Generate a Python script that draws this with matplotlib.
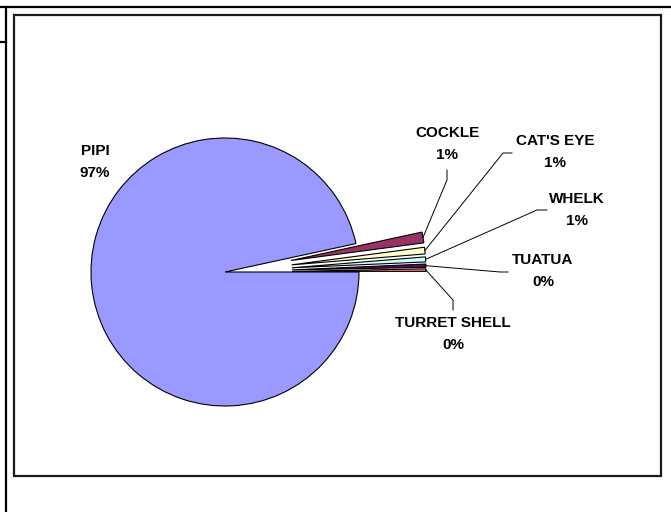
import numpy as np
import matplotlib.pyplot as plt
from matplotlib.patches import Rectangle

# shellfish catch composition
species = ['PIPI', 'COCKLE', "CAT'S EYE", 'WHELK', 'TUATUA', 'TURRET SHELL']
share = [96.6, 1.3, 0.8, 0.6, 0.4, 0.3]
colors = ['#9999FF', '#993366', '#FFFFCC', '#CCFFFF', '#660066', '#FF8080']
explode = [0, 0.5, 0.5, 0.5, 0.5, 0.5]   # fraction of the radius

W, H = 671, 512
CX, CY, R = 225, 272, 134


def fy(y):
    # canvas is laid out top-down in pixels
    return H - y


fig = plt.figure(figsize=(W / 100, H / 100), dpi=100)
ax = fig.add_axes([0, 0, 1, 1])

wedges, _ = ax.pie(share, colors=colors, explode=[e * R for e in explode],
                   startangle=0, counterclock=False, radius=R,
                   center=(CX, fy(CY)),
                   wedgeprops=dict(edgecolor='black', linewidth=0.8))

ax.set_xlim(0, W)
ax.set_ylim(0, H)
ax.set_aspect('equal')
ax.axis('off')

# label centres and leader elbows (top-down pixel coords)
label_pos = [(95, 162), (447, 144), (555, 152), (577, 210), (543, 271), (453, 334)]
leaders = [None,
           [(447, 180), (447, 170)],
           [(503, 153), (512, 153)],
           [(537, 210), (547, 210)],
           [(500, 272), (508, 272)],
           [(453, 300), (453, 310)]]

for w, name, val, (lx, ly), lead in zip(wedges, species, share, label_pos, leaders):
    ax.text(lx, fy(ly), f'{name}\n{val:.0f}%', ha='center', va='center',
            fontsize=11, fontweight='bold', family='Liberation Sans',
            linespacing=1.65)
    if lead is None:
        continue
    mid = np.deg2rad((w.theta1 + w.theta2) / 2)
    x0 = w.center[0] + w.r * np.cos(mid)
    y0 = w.center[1] + w.r * np.sin(mid)
    xs = [x0] + [p[0] for p in lead]
    ys = [y0] + [fy(p[1]) for p in lead]
    ax.plot(xs, ys, color='black', linewidth=0.7)

# chart area border and the surrounding page rules
ax.add_patch(Rectangle((13.5, fy(475.5)), 661 - 13.5, 475.5 - 15,
                       fill=False, edgecolor='#1a1a1a', linewidth=1.6))
ax.plot([0, W], [fy(7), fy(7)], color='black', linewidth=1.6)
ax.plot([5.5, 5.5], [fy(7), 0], color='black', linewidth=1.6)
ax.plot([0, 5.5], [fy(42), fy(42)], color='black', linewidth=1.6)

fig.savefig('out.png', dpi=100, facecolor='white')
